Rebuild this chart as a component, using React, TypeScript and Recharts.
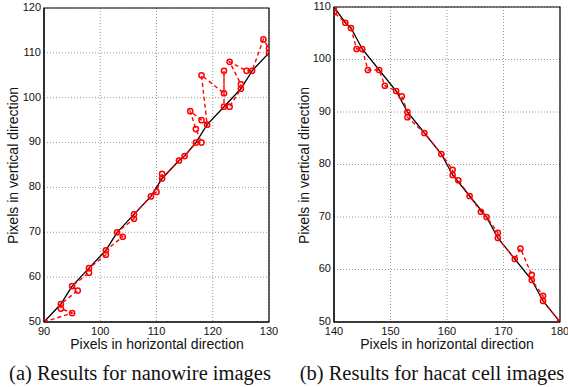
import React from "react";
import { LineChart, Line, XAxis, YAxis, CartesianGrid, ReferenceArea } from "recharts";

// Panel (a): nanowire images
const nanoTrueX = [90, 93, 95, 98, 101, 103, 106, 109, 111, 114, 115, 117, 119, 122, 125, 127, 130];
const nanoTrueY = [50, 54, 58, 62, 66, 70, 74, 78, 82, 86, 87, 90, 94, 98, 102, 106, 110];
const nanoEstX = [90, 95, 93, 93, 96, 95, 98, 98, 101, 101, 104, 103, 106, 106, 109, 110, 111, 111, 114, 115, 117, 118, 117, 116, 118, 119, 118, 122, 122, 122, 123, 125, 125, 123, 126, 127, 129, 130, 130];
const nanoEstY = [50, 52, 53, 54, 57, 58, 61, 62, 65, 66, 69, 70, 73, 74, 78, 79, 83, 82, 86, 87, 90, 90, 93, 97, 95, 94, 105, 101, 106, 98, 98, 102, 103, 108, 106, 106, 113, 111, 110];
const nanoXTicks = [90, 100, 110, 120, 130];
const nanoYTicks = [50, 60, 70, 80, 90, 100, 110, 120];

// Panel (b): hacat cell images
const hacatTrueX = [140, 142, 143, 145, 148, 151, 153, 156, 159, 161, 164, 167, 169, 172, 175, 177, 180];
const hacatTrueY = [110, 107, 106, 102, 98, 94, 90, 86, 82, 78, 74, 70, 66, 62, 58, 54, 50];
const hacatEstX = [140, 140, 142, 143, 144, 145, 146, 148, 149, 151, 152, 153, 153, 156, 159, 161, 161, 162, 164, 166, 167, 169, 169, 172, 173, 175, 175, 177, 177, 180];
const hacatEstY = [110, 109, 107, 106, 102, 102, 98, 98, 95, 94, 93, 90, 89, 86, 82, 79, 78, 77, 74, 71, 70, 67, 66, 62, 64, 59, 58, 55, 54, 50];
const hacatXTicks = [140, 150, 160, 170, 180];
const hacatYTicks = [50, 60, 70, 80, 90, 100, 110];

const toPts = (xs: number[], ys: number[]) => xs.map((x, i) => ({ x, y: ys[i] }));

const tickStyle = { fontSize: 11, fill: "#111", fontFamily: "Liberation Sans, Arial, sans-serif" };

function Panel(props: {
  trueX: number[]; trueY: number[]; estX: number[]; estY: number[];
  xTicks: number[]; yTicks: number[]; yAxisWidth: number; width: number; rightMargin: number; top: number;
}) {
  const xd = [props.xTicks[0], props.xTicks[props.xTicks.length - 1]];
  const yd = [props.yTicks[0], props.yTicks[props.yTicks.length - 1]];
  return (
    <LineChart width={props.width} height={340} margin={{ top: props.top, right: props.rightMargin, left: 0, bottom: 0 }}>
      <CartesianGrid stroke="#9a9a9a" strokeDasharray="1 2" horizontalValues={props.yTicks} verticalValues={props.xTicks} />
      <XAxis type="number" dataKey="x" domain={xd} ticks={props.xTicks} allowDataOverflow height={18}
        tickLine={false} tickSize={0} tickMargin={5} axisLine={{ stroke: "#000" }} tick={tickStyle} interval={0} />
      <YAxis type="number" dataKey="y" domain={yd} ticks={props.yTicks} allowDataOverflow width={props.yAxisWidth}
        tickLine={false} tickSize={0} tickMargin={3} axisLine={{ stroke: "#000" }} tick={{ ...tickStyle, dy: -1 }} interval={0} />
      <ReferenceArea x1={xd[0]} x2={xd[1]} y1={yd[0]} y2={yd[1]} fill="none" stroke="#000" strokeWidth={1.2} fillOpacity={0} />
      <Line data={toPts(props.trueX, props.trueY)} dataKey="y" stroke="#000" strokeWidth={1.3} dot={false} isAnimationActive={false} />
      <Line data={toPts(props.estX, props.estY)} dataKey="y" stroke="#ff0000" strokeWidth={1.4} strokeDasharray="4 3"
        dot={{ r: 2.6, stroke: "#ff0000", strokeWidth: 1.5, fill: "none", strokeDasharray: "" }} isAnimationActive={false} />
    </LineChart>
  );
}

const labelFont = "Liberation Sans, Arial, sans-serif";
const captionFont = "Liberation Serif, Times New Roman, serif";

const hLabel = { position: "absolute" as const, top: 337, width: 240, textAlign: "center" as const, fontFamily: labelFont, fontSize: 14, color: "#111", lineHeight: "15px" };
const vLabel = { position: "absolute" as const, top: 165 - 8, width: 240, textAlign: "center" as const, fontFamily: labelFont, fontSize: 14, color: "#111", lineHeight: "17px", transform: "rotate(-90deg)" };
const caption = { position: "absolute" as const, top: 361, width: 300, textAlign: "center" as const, fontFamily: captionFont, fontSize: 20.5, color: "#111", lineHeight: "24px", whiteSpace: "nowrap" as const };

export default function App() {
  return (
    <div style={{ position: "absolute", left: 0, top: 0, width: 568, height: 387, background: "#fff", overflow: "hidden" }}>
      <div style={{ position: "absolute", left: 0, top: 0 }}>
        <Panel trueX={nanoTrueX} trueY={nanoTrueY} estX={nanoEstX} estY={nanoEstY}
          xTicks={nanoXTicks} yTicks={nanoYTicks} yAxisWidth={44} width={284} rightMargin={15} top={8} />
      </div>
      <div style={{ position: "absolute", left: 284, top: 0 }}>
        <Panel trueX={hacatTrueX} trueY={hacatTrueY} estX={hacatEstX} estY={hacatEstY}
          xTicks={hacatXTicks} yTicks={hacatYTicks} yAxisWidth={50} width={284} rightMargin={8} top={7} />
      </div>
      {/* axis titles */}
      <div style={{ ...hLabel, left: 157 - 120 }}>Pixels in horizontal direction</div>
      <div style={{ ...hLabel, left: 447 - 120 }}>Pixels in horizontal direction</div>
      <div style={{ ...vLabel, left: 13 - 120 }}>Pixels in vertical direction</div>
      <div style={{ ...vLabel, left: 304 - 120 }}>Pixels in vertical direction</div>
      {/* captions */}
      <div style={{ ...caption, left: 140 - 150 }}>(a) Results for nanowire images</div>
      <div style={{ ...caption, left: 432 - 150 }}>(b) Results for hacat cell images</div>
    </div>
  );
}
